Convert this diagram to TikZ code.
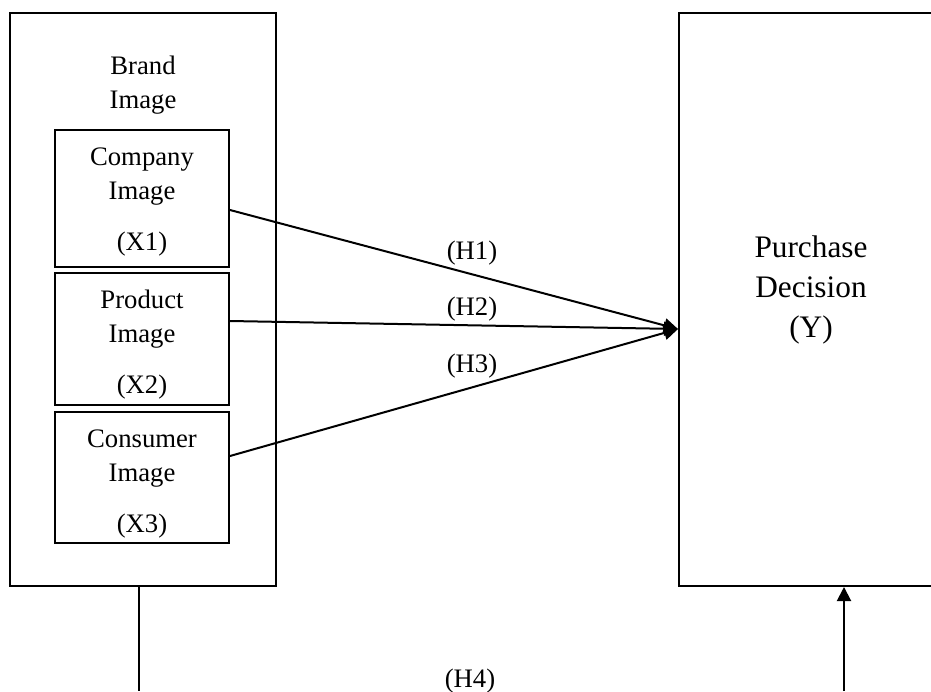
\documentclass[tikz,border=0pt]{standalone}
\usepackage{fontspec}
\setmainfont{Liberation Serif}
\usetikzlibrary{arrows.meta}

\tikzset{
  varbox/.style={draw, rectangle, line width=2pt, inner sep=0pt},
  lbl/.style={align=center, inner sep=0pt, anchor=base, font=\fontsize{26.7}{34}\selectfont},
  biglbl/.style={align=center, inner sep=0pt, anchor=base, font=\fontsize{31.3}{40}\selectfont},
  hyp/.style={line width=2pt, -{Triangle[length=14pt,width=14pt]}}
}

\begin{document}
\begin{tikzpicture}[x=1pt, y=-1pt]
    \useasboundingbox (0,0) rectangle (931,691);
    \clip (0,0) rectangle (931,691);

    % Brand image (X) with its three dimensions
    \node[varbox, minimum width=266pt, minimum height=573pt] (brand) at (143,299.5) {};
    \node[lbl] (brand-txt) at (143,108) {Brand\\Image};

    \node[varbox, minimum width=174pt, minimum height=137pt] (company) at (142,198.5) {};
    \node[lbl] (company-txt) at (142,250) {Company\\Image\\[17pt](X1)};

    \node[varbox, minimum width=174pt, minimum height=132pt] (product) at (142,339) {};
    \node[lbl] (product-txt) at (142,393) {Product\\Image\\[17pt](X2)};

    \node[varbox, minimum width=174pt, minimum height=131pt] (consumer) at (142,477.5) {};
    \node[lbl] (consumer-txt) at (142,532) {Consumer\\Image\\[17pt](X3)};

    % Purchase decision (Y)
    \node[varbox, minimum width=281pt, minimum height=573pt] (purchase) at (819.5,299.5) {};
    \node[biglbl] (purchase-txt) at (811,337) {Purchase\\Decision\\(Y)};

    % Hypotheses
    \coordinate (tip) at ([yshift=-29.5pt]purchase.west);
    \draw[hyp] ([yshift=-11.5pt]company.east) -- (tip);
    \draw[hyp] ([yshift=18pt]product.east) -- (tip);
    \draw[hyp] ([yshift=21.5pt]consumer.east) -- (tip);

    \node[lbl] (h1) at (472,259) {(H1)};
    \node[lbl] (h2) at (472,315) {(H2)};
    \node[lbl] (h3) at (472,372) {(H3)};

    % Simultaneous path (H4)
    \coordinate (h4-from) at (139,691);
    \coordinate (h4-to) at (844,691);
    \draw[line width=2pt] ([xshift=-4pt]brand.south) -- (h4-from);
    \draw[hyp] (h4-to) -- ([xshift=24.5pt]purchase.south);
    \node[lbl] (h4) at (470,687) {(H4)};
\end{tikzpicture}
\end{document}
